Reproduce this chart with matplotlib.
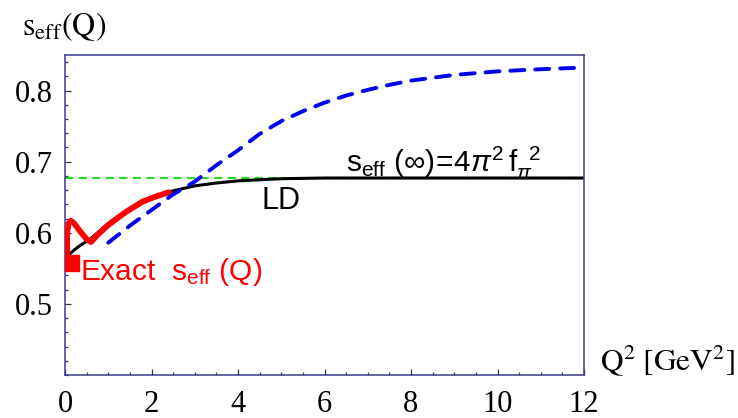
import matplotlib
matplotlib.use("Agg")
import matplotlib.pyplot as plt
from matplotlib.ticker import MultipleLocator

plt.rcParams['mathtext.fontset'] = 'custom'
plt.rcParams['mathtext.rm'] = 'Liberation Sans'
plt.rcParams['mathtext.it'] = 'Liberation Sans:italic'
plt.rcParams['mathtext.bf'] = 'Liberation Sans:bold'

# ---- data ----
ld_q2 = [0.1, 0.3, 0.6, 1.0, 1.5, 2.0, 2.5, 3.0, 3.5, 4.0, 5.0, 6.0, 8.0, 10.0, 12.0]
ld_s = [0.570, 0.580, 0.592, 0.613, 0.634, 0.649, 0.659, 0.666, 0.670, 0.673, 0.676, 0.677, 0.677, 0.677, 0.677]

exact_q2 = [0.05, 0.05, 0.08, 0.13, 0.2, 0.35, 0.5, 0.6, 0.75, 1.0, 1.4, 1.8, 2.1, 2.4]
exact_s = [0.560, 0.600, 0.613, 0.617, 0.614, 0.602, 0.591, 0.587, 0.597, 0.611, 0.629, 0.644, 0.651, 0.657]
exact_start = (0.13, 0.558)

blue_q2 = [1.0, 1.5, 2.0, 2.5, 3.0, 3.5, 4.0, 4.5, 5.0, 5.5, 6.0, 6.5, 7.0, 7.5, 8.0, 9.0, 10.0, 11.0, 11.85]
blue_s = [0.586, 0.610, 0.632, 0.654, 0.672, 0.695, 0.716, 0.739, 0.757, 0.771, 0.783, 0.793, 0.801, 0.808, 0.814, 0.822, 0.827, 0.830, 0.832]

s_inf = 0.677
x_ticks = [0, 2, 4, 6, 8, 10, 12]
y_ticks = [0.5, 0.6, 0.7, 0.8]

fig = plt.figure(figsize=(7.38, 4.18), dpi=100)
ax = fig.add_axes([65/738, 1-375/418, (584-65)/738, (375-55)/418])
ax.set_xlim(0, 12)
ax.set_ylim(0.4, 0.85)

ax.axhline(s_inf, color='#22dd22', lw=1.5, dashes=(4, 2.5), zorder=1)
ax.plot(ld_q2, ld_s, color='black', lw=2.2, zorder=2)
ax.plot(exact_q2, exact_s, color='#ff0000', lw=4.2, solid_capstyle='round', solid_joinstyle='round', zorder=3)
ax.plot([exact_start[0]], [exact_start[1]], marker='s', color='#ff0000', ms=11.5, zorder=3)
ax.plot(blue_q2, blue_s, color='#0000ee', lw=2.8, dashes=(3.6, 2.8), dash_capstyle='round', zorder=4)

frame = '#3c3c90'
for sp in ax.spines.values():
    sp.set_color(frame)
    sp.set_linewidth(1.1)

ax.set_xticks(x_ticks)
ax.set_yticks(y_ticks)
ax.xaxis.set_minor_locator(MultipleLocator(0.5))
ax.yaxis.set_minor_locator(MultipleLocator(0.02))
ax.tick_params(which='both', direction='in', top=False, right=False, color='#333355', width=0.9)
ax.tick_params(which='major', length=4)
ax.tick_params(which='minor', length=2.5)
ax.tick_params(axis='x', which='major', pad=11)
ax.tick_params(axis='y', which='major', pad=9)
ax.set_xticklabels([str(v) for v in x_ticks], family='Liberation Serif', fontsize=22)
ax.set_yticklabels([f"{v:.1f}" for v in y_ticks], family='Liberation Serif', fontsize=22)

fig.text(22/738, 1-35/418, r'$\mathrm{s_{eff}(Q)}$', math_fontfamily='stix', fontsize=23, ha='left', va='baseline')
fig.text(600/738, 1-370/418, r'$\mathrm{Q^2\ [GeV^2]}$', math_fontfamily='stix', fontsize=22.5, ha='left', va='baseline')

ax.text(4.55, 0.634, 'LD', family='Liberation Sans', fontsize=22, ha='left', va='baseline')
ax.text(6.5, 0.685, r'$\mathrm{s_{eff}}\ (\infty)\!=\!4\pi^2\,\mathrm{f}_{\pi}^{\ \ 2}$', fontsize=21.5, ha='left', va='baseline')
ax.text(0.34, 0.534, r'$\mathrm{Exact}\ \ \mathrm{s_{eff}}\ (\mathrm{Q})$', fontsize=21.5, color='#ff0000', ha='left', va='baseline')

fig.savefig('out.png', dpi=100)
